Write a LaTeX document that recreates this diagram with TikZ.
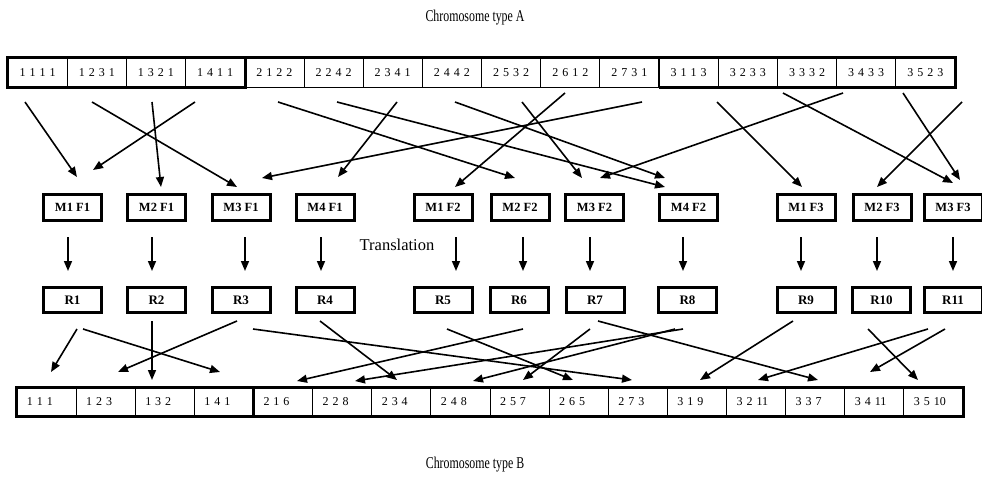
\documentclass[tikz,border=0pt]{standalone}
\usepackage{fontspec}
\setmainfont{Liberation Serif}
\usetikzlibrary{arrows.meta}
\newcommand\dk{\kern4pt}
\begin{document}
\begin{tikzpicture}[x=1pt,y=-1pt,
  arr/.style={line width=1.6pt,-{Triangle[length=10pt,width=8pt]}},
  gbox/.style={draw,line width=3pt,minimum width=58pt,minimum height=26pt,inner sep=0pt,
     font=\bfseries\fontsize{12.5}{13}\selectfont},
  rbox/.style={draw,line width=3pt,minimum width=58pt,minimum height=25pt,inner sep=0pt,
     font=\bfseries\fontsize{13}{14}\selectfont},
  cellA/.style={draw,line width=0.8pt,minimum width=59.19pt,minimum height=29pt,inner sep=0pt,
     font=\fontsize{12}{12}\selectfont},
  cellB/.style={draw,line width=0.8pt,text width=39.125pt,inner xsep=10pt,inner ysep=0pt,
     minimum height=28pt,align=left,font=\fontsize{12}{12}\selectfont},
  lbl/.style={font=\fontsize{16.5}{18}\selectfont,inner sep=0pt},
  title/.style={lbl,xscale=0.72,transform shape}]
\useasboundingbox (0,0) rectangle (982,482);
\fill[white] (0,0) rectangle (982,482);

% titles
\node[title] (titleA) at (475,18) {Chromosome type A};
\node[title] (titleB) at (475,465) {Chromosome type B};
\node[lbl] (trans) at (397,245) {Translation};

% chromosome A
\foreach \t [count=\i from 0] in {1\dk1\dk1\dk1,1\dk2\dk3\dk1,1\dk3\dk2\dk1,1\dk4\dk1\dk1,
  2\dk1\dk2\dk2,2\dk2\dk4\dk2,2\dk3\dk4\dk1,2\dk4\dk4\dk2,2\dk5\dk3\dk2,2\dk6\dk1\dk2,
  2\dk7\dk3\dk1,3\dk1\dk1\dk3,3\dk2\dk3\dk3,3\dk3\dk3\dk2,3\dk4\dk3\dk3,3\dk5\dk2\dk3}
  { \node[cellA] (a\i) at ({8+59.1875*(\i+0.5)},72.5) {\t}; }
\draw[line width=3pt] (a0.north west) rectangle (a3.south east);
\draw[line width=3pt] (a3.north east) -- (a15.north east) -- (a15.south east) -- (a11.south west);
\draw[line width=1.6pt] (a4.south west) -- (a10.south east);
\draw[line width=1.6pt] (a11.north west) -- (a11.south west);

% chromosome B
\foreach \t [count=\i from 0] in {1\dk1\dk1,1\dk2\dk3,1\dk3\dk2,1\dk4\dk1,
  2\dk1\dk6,2\dk2\dk8,2\dk3\dk4,2\dk4\dk8,2\dk5\dk7,2\dk6\dk5,2\dk7\dk3,
  3\dk1\dk9,3\dk2\dk11,3\dk3\dk7,3\dk4\dk11,3\dk5\dk10}
  { \node[cellB] (b\i) at ({17+59.125*(\i+0.5)},402) {\t}; }
\draw[line width=3pt] (b0.north west) rectangle (b15.south east);
\draw[line width=3pt] (b0.north west) rectangle (b3.south east);

% gene boxes
\node[gbox] (m1) at (72.5,207.5) {M1 F1};
\node[gbox] (m2) at (156.5,207.5) {M2 F1};
\node[gbox] (m3) at (241,207.5) {M3 F1};
\node[gbox] (m4) at (325,207.5) {M4 F1};
\node[gbox] (m5) at (443,207.5) {M1 F2};
\node[gbox] (m6) at (520,207.5) {M2 F2};
\node[gbox] (m7) at (594.5,207.5) {M3 F2};
\node[gbox] (m8) at (688.5,207.5) {M4 F2};
\node[gbox] (m9) at (806,207.5) {M1 F3};
\node[gbox] (m10) at (882,207.5) {M2 F3};
\node[gbox] (m11) at (953,207.5) {M3 F3};

\node[rbox] (r1) at (72.5,300) {R1};
\node[rbox] (r2) at (156.5,300) {R2};
\node[rbox] (r3) at (241,300) {R3};
\node[rbox] (r4) at (325,300) {R4};
\node[rbox] (r5) at (443,300) {R5};
\node[rbox] (r6) at (519,300) {R6};
\node[rbox] (r7) at (595,300) {R7};
\node[rbox] (r8) at (687.5,300) {R8};
\node[rbox] (r9) at (806,300) {R9};
\node[rbox] (r10) at (881.5,300) {R10};
\node[rbox] (r11) at (953,300) {R11};

% translation arrows
\foreach \x [count=\i] in {68,152,245,321,456,523,590,683,801,877,953}
  { \coordinate (vs\i) at (\x,237); \coordinate (vt\i) at (\x,271);
    \draw[arr] (vs\i) -- (vt\i); }

% chromosome A -> gene boxes
\foreach \sx/\sy/\tx/\ty [count=\i] in {25/102/77/177, 92/102/237/187, 152/102/161/187,
  195/102/93/170, 278/102/515/178, 337/102/665/187, 397/102/338/177, 455/102/665/178,
  522/102/582/178, 565/93/455/187, 642/102/262/178, 717/102/802/187, 783/93/953/183,
  843/93/600/178, 903/93/960/180, 962/102/877/187}
  { \coordinate (ts\i) at (\sx,\sy); \coordinate (tt\i) at (\tx,\ty);
    \draw[arr] (ts\i) -- (tt\i); }

% R boxes -> chromosome B
\foreach \sx/\sy/\tx/\ty [count=\i] in {77/329/51/372, 83/329/220/372, 152/321/152/380,
  237/321/118/372, 253/329/632/380, 320/321/397/380, 447/329/573/380, 523/329/297/381,
  590/329/523/380, 598/321/818/380, 683/329/355/381, 675/329/473/381, 793/321/700/380,
  868/329/918/380, 928/329/758/380, 945/329/870/372}
  { \coordinate (bs\i) at (\sx,\sy); \coordinate (bt\i) at (\tx,\ty);
    \draw[arr] (bs\i) -- (bt\i); }
\end{tikzpicture}
\end{document}
